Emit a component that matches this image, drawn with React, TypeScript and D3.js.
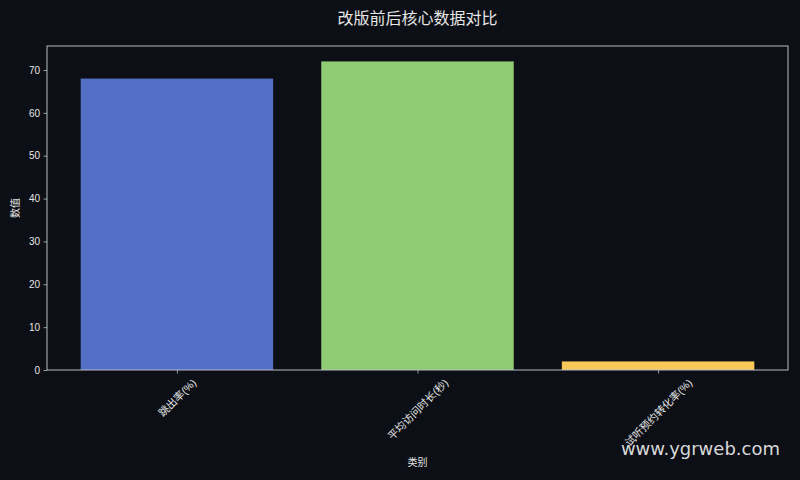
import React, { useEffect, useRef } from 'react';
import * as d3 from 'd3';

const WIDTH = 800;
const HEIGHT = 480;
const BG = '#0c0f15';
const AXIS_COLOR = '#b8bcc4';
const TEXT_COLOR = '#e6e6e6';
const FONT = '"Liberation Sans", "Noto Sans CJK SC", sans-serif';
const MARGIN = { top: 46, right: 12, bottom: 110, left: 47 };

const CATEGORIES = ['跳出率(%)', '平均访问时长(秒)', '试听预约转化率(%)'];
const VALUES = [68, 72, 2];
const COLORS = ['#5470c6', '#91cc75', '#fac858'];
const Y_TICKS = [0, 10, 20, 30, 40, 50, 60, 70];

const App: React.FC = () => {
  const svgRef = useRef<SVGSVGElement>(null);

  useEffect(() => {
    const svg = d3.select(svgRef.current);
    svg.selectAll('*').remove();

    const innerW = WIDTH - MARGIN.left - MARGIN.right;
    const innerH = HEIGHT - MARGIN.top - MARGIN.bottom;

    svg.append('rect').attr('width', WIDTH).attr('height', HEIGHT).attr('fill', BG);

    const g = svg.append('g').attr('transform', `translate(${MARGIN.left},${MARGIN.top})`);

    // categorical axis like matplotlib: bar width 0.8, 5% margins
    const x = d3.scaleLinear().domain([-0.54, CATEGORIES.length - 1 + 0.54]).range([0, innerW]);
    const y = d3.scaleLinear().domain([0, d3.max(VALUES)! * 1.05]).range([innerH, 0]);

    // Bars
    g.selectAll('rect.bar')
      .data(VALUES)
      .join('rect')
      .attr('class', 'bar')
      .attr('x', (_, i) => x(i - 0.4))
      .attr('width', x(0.4) - x(-0.4))
      .attr('y', d => y(d))
      .attr('height', d => innerH - y(d))
      .attr('fill', (_, i) => COLORS[i]);

    // Y axis
    g.append('g')
      .call(d3.axisLeft(y).tickValues(Y_TICKS).tickSize(3.5).tickPadding(3.5).tickFormat(d3.format('d')))
      .call(sel => {
        sel.select('.domain').remove();
        sel.selectAll('.tick line').attr('stroke', AXIS_COLOR).attr('stroke-width', 0.8);
        sel.selectAll('text').attr('fill', TEXT_COLOR).attr('font-size', 10).attr('font-family', FONT);
      });

    // X axis, labels rotated 45° with their bounding box centred under the tick
    g.append('g')
      .attr('transform', `translate(0,${innerH})`)
      .call(d3.axisBottom(x).tickValues(d3.range(CATEGORIES.length)).tickSize(3.5).tickFormat((_, i) => CATEGORIES[i]))
      .call(sel => {
        sel.select('.domain').remove();
        sel.selectAll('.tick line').attr('stroke', AXIS_COLOR).attr('stroke-width', 0.8);
        sel.selectAll<SVGTextElement, unknown>('text')
          .attr('fill', TEXT_COLOR)
          .attr('font-size', 10.5)
          .attr('font-family', FONT)
          .attr('text-anchor', 'middle')
          .attr('dy', '0.35em')
          .attr('y', 0)
          .attr('transform', function () {
            const len = this.getComputedTextLength();
            const half = ((len + 11) / 2) * Math.SQRT1_2;
            return `translate(0,${7 + half}) rotate(-45)`;
          });
      });

    // Frame
    g.append('rect').attr('width', innerW).attr('height', innerH)
      .attr('fill', 'none').attr('stroke', AXIS_COLOR).attr('stroke-width', 1);

    // Title
    svg.append('text')
      .attr('x', MARGIN.left + innerW / 2).attr('y', 24)
      .attr('text-anchor', 'middle')
      .attr('fill', TEXT_COLOR).attr('font-size', 16).attr('font-family', FONT)
      .text('改版前后核心数据对比');

    // Axis labels
    svg.append('text')
      .attr('x', MARGIN.left + innerW / 2).attr('y', 466)
      .attr('text-anchor', 'middle')
      .attr('fill', TEXT_COLOR).attr('font-size', 10).attr('font-family', FONT)
      .text('类别');

    svg.append('text')
      .attr('transform', `translate(19,${MARGIN.top + innerH / 2}) rotate(-90)`)
      .attr('text-anchor', 'middle')
      .attr('fill', TEXT_COLOR).attr('font-size', 10).attr('font-family', FONT)
      .text('数值');

    // Watermark
    svg.append('text')
      .attr('x', 780).attr('y', 455)
      .attr('text-anchor', 'end')
      .attr('fill', '#ffffff').attr('fill-opacity', 0.85)
      .attr('font-size', 18).attr('font-family', '"DejaVu Sans", sans-serif')
      .text('www.ygrweb.com');
  }, []);

  return (
    <div style={{ position: 'fixed', left: 0, top: 0, width: WIDTH, height: HEIGHT, background: BG }}>
      <svg ref={svgRef} width={WIDTH} height={HEIGHT} style={{ display: 'block' }} />
    </div>
  );
};

export default App;
